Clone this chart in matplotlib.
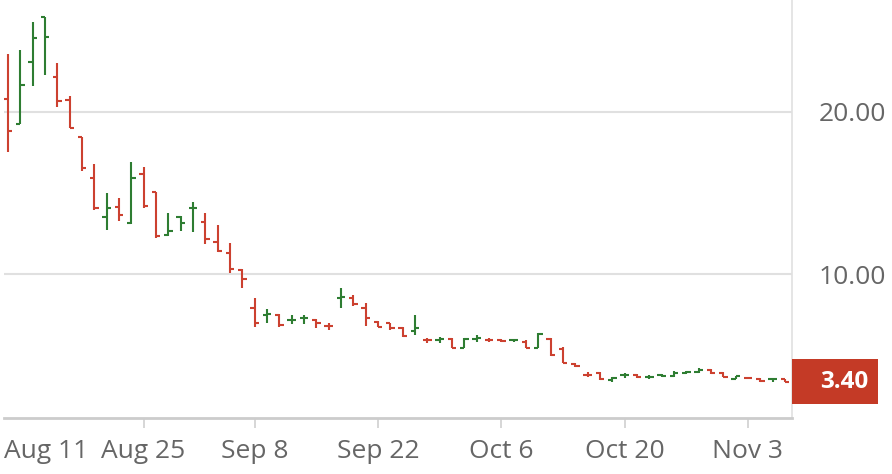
import numpy as np
import pandas as pd
import matplotlib
matplotlib.use("Agg")
import matplotlib.pyplot as plt
import matplotlib.transforms as mtransforms
from matplotlib.patches import Rectangle
from matplotlib.ticker import FormatStrFormatter

plt.rcParams['font.family'] = ['Open Sans', 'DejaVu Sans']

# trading days Aug 8 - Nov 6 2025 (Labor Day skipped)
dates = pd.bdate_range('2025-08-08', '2025-11-06')
dates = dates[dates != pd.Timestamp('2025-09-01')]

opens = [20.78, 19.22, 23.06, 25.80, 22.15, 20.72, 18.46, 15.94, 13.54, 14.16,
         13.14, 16.15, 15.04, 12.40, 13.54, 14.06, 13.24, 12.00, 11.33, 10.26,
         7.91, 7.50, 7.50, 7.17, 7.33, 7.19, 6.84, 8.55, 8.52, 7.95,
         7.09, 7.00, 6.72, 6.53, 5.94, 5.98, 6.00, 5.49, 6.04, 5.97,
         5.93, 5.98, 5.86, 5.49, 6.00, 5.39, 4.48, 3.81, 3.95, 3.50,
         3.80, 3.81, 3.70, 3.81, 3.74, 3.95, 4.01, 4.11, 3.95, 3.56,
         3.64, 3.56, 3.54, 3.54]
highs = [23.53, 23.79, 25.52, 25.84, 23.01, 20.98, 18.46, 16.77, 15.02, 14.71,
         16.93, 16.62, 15.04, 13.75, 13.60, 14.47, 13.75, 13.03, 11.94, 10.31,
         8.52, 7.85, 7.54, 7.50, 7.50, 7.23, 7.02, 9.18, 8.73, 8.25,
         7.13, 7.02, 6.78, 7.50, 6.06, 6.16, 6.06, 6.10, 6.27, 6.06,
         6.00, 6.00, 5.96, 6.37, 6.06, 5.55, 4.52, 4.01, 4.01, 3.70,
         3.95, 3.86, 3.78, 3.86, 4.05, 4.05, 4.26, 4.17, 4.01, 3.74,
         3.70, 3.60, 3.64, 3.58]
lows = [17.54, 19.22, 21.60, 22.26, 20.31, 18.98, 16.35, 13.95, 12.72, 13.28,
        13.09, 14.10, 12.25, 12.36, 12.68, 12.58, 11.84, 11.39, 10.06, 9.14,
        6.78, 7.02, 6.78, 6.94, 6.94, 6.72, 6.57, 7.91, 8.05, 6.84,
        6.74, 6.57, 6.16, 6.27, 5.76, 5.79, 5.45, 5.49, 5.86, 5.86,
        5.86, 5.86, 5.45, 5.45, 4.98, 4.52, 4.32, 3.67, 3.50, 3.40,
        3.60, 3.60, 3.55, 3.70, 3.70, 3.86, 3.91, 3.88, 3.70, 3.54,
        3.58, 3.40, 3.40, 3.37]
closes = [18.81, 21.64, 24.55, 24.61, 20.68, 18.98, 16.52, 14.06, 14.10, 13.65,
          15.94, 14.20, 12.36, 12.66, 13.17, 14.06, 12.17, 11.43, 10.31, 9.69,
          6.99, 7.55, 6.88, 7.20, 7.33, 6.99, 6.83, 8.62, 8.17, 7.33,
          6.78, 6.68, 6.22, 6.68, 5.94, 6.00, 5.49, 6.00, 6.06, 5.96,
          5.92, 5.94, 5.49, 6.31, 5.04, 4.56, 4.36, 3.81, 3.56, 3.64,
          3.81, 3.67, 3.70, 3.74, 3.95, 3.97, 4.11, 3.91, 3.70, 3.74,
          3.64, 3.44, 3.54, 3.40]

tick_dates = ['2025-08-25', '2025-09-08', '2025-09-22', '2025-10-06', '2025-10-20', '2025-11-03']
tick_labels = ['Aug 25', 'Sep 8', 'Sep 22', 'Oct 6', 'Oct 20', 'Nov 3']

up_color = '#2e7d32'
down_color = '#cc4130'
label_gray = '#666666'

fig = plt.figure(figsize=(8.92, 4.74), dpi=100)
ax = fig.add_axes([4/892, (474-417.5)/474, (792-4)/892, 417.5/474])

x = np.arange(len(dates))
prev = np.r_[opens[0], closes[:-1]]
colors = [up_color if c > p else down_color for c, p in zip(closes, prev)]

w = 0.35
ax.vlines(x, lows, highs, colors=colors, lw=1.5, zorder=3)
ax.hlines(opens, x - w, x, colors=colors, lw=1.5, zorder=3)
ax.hlines(closes, x, x + w, colors=colors, lw=1.5, zorder=3)

ax.set_xlim(-0.32, 63.58)
ax.set_ylim(1.19, 26.87)

# grid
ax.set_yticks([10, 20])
ax.yaxis.set_major_formatter(FormatStrFormatter('%.2f'))
ax.yaxis.tick_right()
ax.grid(axis='y', color='#e0e0e0', lw=1.5, zorder=0)
ax.tick_params(axis='y', length=0, pad=19, labelsize=19, labelcolor=label_gray)

tick_pos = [dates.get_loc(pd.Timestamp(d)) for d in tick_dates]
ax.set_xticks(tick_pos)
ax.set_xticklabels(tick_labels)
ax.tick_params(axis='x', length=7.2, width=1.2, color='#d0d0d0', pad=8.0,
               labelsize=19, labelcolor=label_gray)
# first label is pushed inside the plot, without a tick
ax.text(0.0, -40.2/417.5, 'Aug 11', transform=ax.transAxes, ha='left', va='baseline',
        fontsize=19, color=label_gray)

for s in ['top', 'left']:
    ax.spines[s].set_visible(False)
ax.spines['bottom'].set_color('#cccccc')
ax.spines['bottom'].set_linewidth(2)
ax.spines['right'].set_color('#e0e0e0')
ax.spines['right'].set_linewidth(1.2)

# last price marker
last = closes[-1]
trans = mtransforms.blended_transform_factory(fig.transFigure, ax.transData)
box_h = 45 / (417.5 / (26.87 - 1.19))
ax.add_patch(Rectangle((792/892, last - box_h/2), 86/892, box_h, transform=trans,
                       facecolor='#c43a26', edgecolor='none', clip_on=False, zorder=5))
ax.text(868/892, last, f'{last:.2f}', transform=trans, ha='right', va='center',
        fontsize=17.5, fontweight='bold', color='white', zorder=6)

fig.savefig('out.png', dpi=100)
